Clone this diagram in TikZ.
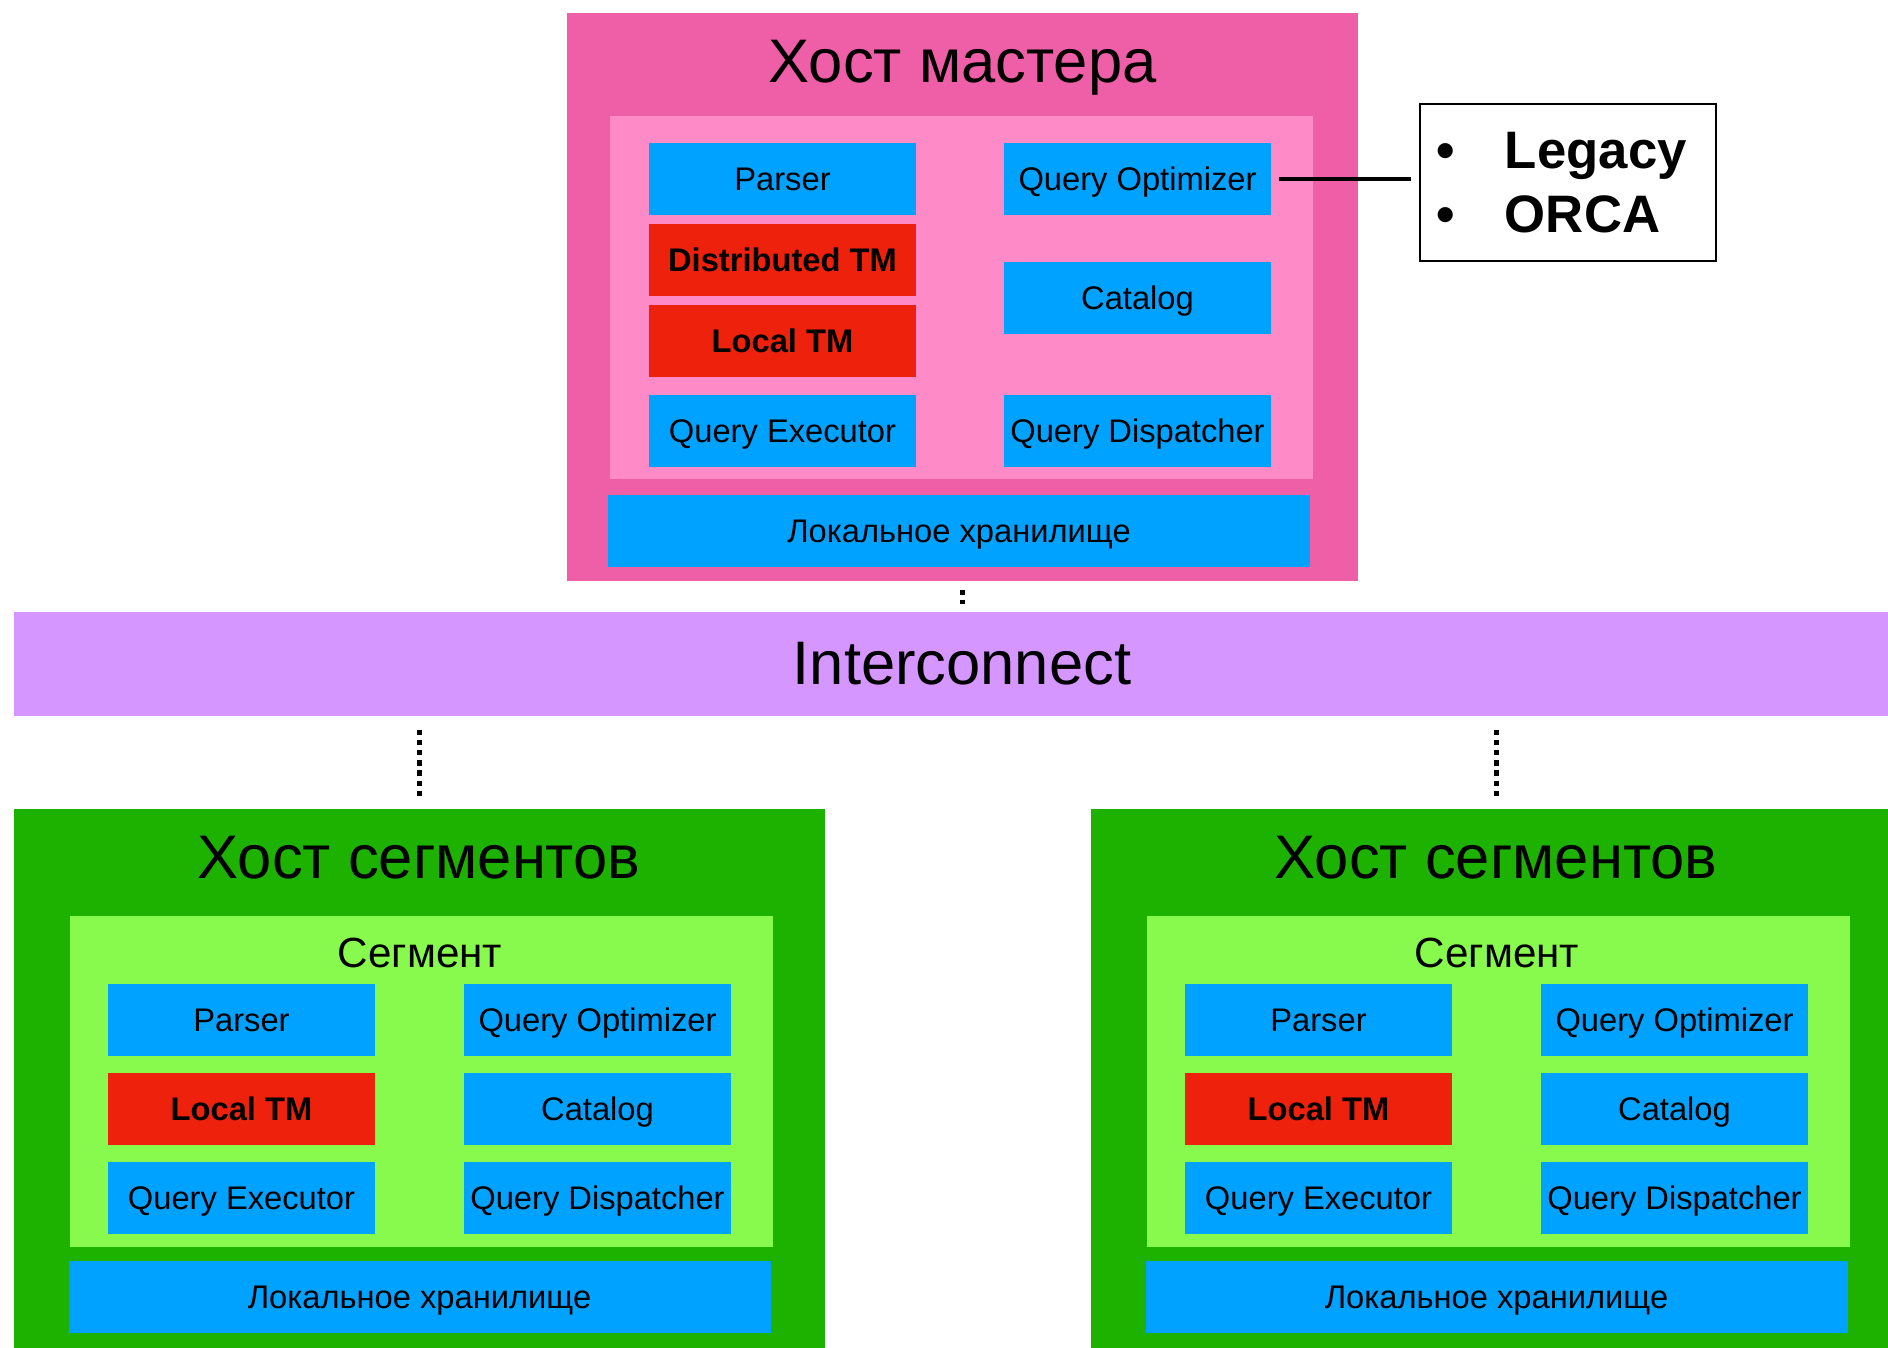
\documentclass[tikz,border=0pt]{standalone}
\usepackage{fontspec}
\setmainfont{Liberation Sans}
\usetikzlibrary{positioning}
\definecolor{hostpink}{HTML}{EF5FA7}
\definecolor{corepink}{HTML}{FF8AC8}
\definecolor{cblue}{HTML}{00A2FF}
\definecolor{cred}{HTML}{EE220C}
\definecolor{cviolet}{HTML}{D597FF}
\definecolor{hostgreen}{HTML}{1DB100}
\definecolor{seggreen}{HTML}{88FA4E}
\newcommand{\ttlfont}{\fontsize{17.5}{21}\selectfont}
\newcommand{\boxfont}{\fontsize{9.3}{11}\selectfont}
\tikzset{
  every node/.style={text=black},
  % flat coloured rectangles, no outline
  panel/.style={fill=#1, inner sep=0pt},
  box/.style={fill=#1, inner sep=0pt, minimum width=2.67cm, minimum height=0.72cm, font=\boxfont,
              text height=6.7pt, text depth=0pt},
  tmbox/.style={box=cred, font=\boxfont\bfseries},
  store/.style={box=cblue, minimum width=7.02cm},
  ttl/.style={font=\ttlfont, anchor=base},
  dotline/.style={line width=1.5pt, dash pattern=on 1.5pt off 1.4pt},
}

\begin{document}
\begin{tikzpicture}[x=1cm,y=1cm]
  \useasboundingbox (0,0) rectangle (18.88,-13.47);
  \clip (0,0) rectangle (18.88,-13.47);

  % ---- master host ----
  \node[panel=hostpink, minimum width=7.91cm, minimum height=5.68cm] (master) at (9.625,-2.97) {};
  \node[ttl] (mtitle) at (9.625,-0.82) {Хост мастера};
  \node[panel=corepink, minimum width=7.03cm, minimum height=3.63cm] (mcore) at (9.615,-2.975) {};

  \node[box=cblue] (parserM) at (7.825,-1.79)  {Parser};
  \node[tmbox]     (dtmM)    at (7.825,-2.60)  {Distributed TM};
  \node[tmbox]     (ltmM)    at (7.825,-3.41)  {Local TM};
  \node[box=cblue] (execM)   at (7.825,-4.305) {Query Executor};
  \node[box=cblue] (optM)    at (11.375,-1.79) {Query Optimizer};
  \node[box=cblue] (catM)    at (11.375,-2.98) {Catalog};
  \node[box=cblue] (dispM)   at (11.375,-4.305) {Query Dispatcher};
  \node[store]     (storeM)  at (9.59,-5.305)  {Локальное хранилище};

  % optimizer variants
  \node[draw, line width=0.6pt, minimum width=2.96cm, minimum height=1.57cm, inner ysep=0pt, inner xsep=0.16cm,
        text width=2.64cm, align=left, font=\fontsize{15}{18.2}\selectfont\bfseries] (algo) at (15.68,-1.825)
        {\makebox[0.69cm][l]{\textbullet}Legacy\\\makebox[0.69cm][l]{\textbullet}ORCA};
  \draw[line width=1.1pt, shorten <=0.07cm, shorten >=0.08cm] (optM.east) -- (optM.east -| algo.west);

  % ---- interconnect ----
  \node[panel=cviolet, minimum width=18.96cm, minimum height=1.04cm, font=\ttlfont] (ic) at (9.62,-6.64) {Interconnect};
  \draw[dotline, shorten <=0.08cm, shorten >=0.07cm] (master.south) -- (master.south |- ic.north);

  % ---- segment hosts ----
  \foreach \s/\dx in {L/0,R/10.77}{
    \begin{scope}[xshift=\dx cm]
      \node[panel=hostgreen, minimum width=8.11cm, minimum height=5.39cm] (host\s) at (4.195,-10.785) {};
      \node[ttl] (htitle\s) at (4.19,-8.78) {Хост сегментов};
      \node[panel=seggreen, minimum width=7.03cm, minimum height=3.31cm] (seg\s) at (4.215,-10.815) {};
      \node[ttl, font=\fontsize{12}{14}\selectfont] (stitle\s) at (4.20,-9.67) {Сегмент};

      \node[box=cblue] (parser\s) at (2.415,-10.195) {Parser};
      \node[tmbox]     (ltm\s)    at (2.415,-11.085) {Local TM};
      \node[box=cblue] (exec\s)   at (2.415,-11.975) {Query Executor};
      \node[box=cblue] (opt\s)    at (5.975,-10.195) {Query Optimizer};
      \node[box=cblue] (cat\s)    at (5.975,-11.085) {Catalog};
      \node[box=cblue] (disp\s)   at (5.975,-11.975) {Query Dispatcher};
      \node[store]     (store\s)  at (4.195,-12.97)  {Локальное хранилище};
    \end{scope}
    \draw[dotline, shorten <=0.13cm, shorten >=0.11cm] (host\s.north |- ic.south) -- (host\s.north);
  }
\end{tikzpicture}
\end{document}
